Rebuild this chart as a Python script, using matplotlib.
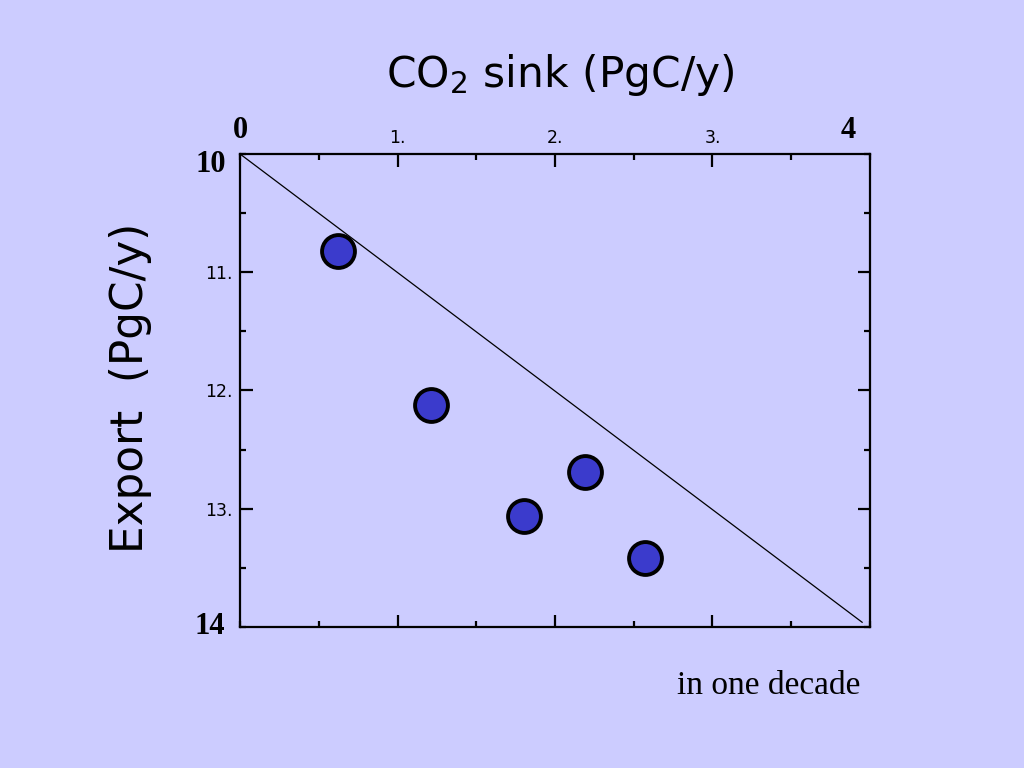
import matplotlib
matplotlib.use("Agg")
import matplotlib.pyplot as plt
from matplotlib.ticker import MultipleLocator

# Data
co2_sink = [0.62, 1.21, 1.80, 2.19, 2.57]
export = [10.82, 12.12, 13.06, 12.69, 13.42]
line_x = [0.0, 3.95]
line_y = [10.0, 13.96]
x_ticks = [1, 2, 3]
x_tick_labels = ['1.', '2.', '3.']
y_ticks = [11, 12, 13]
y_tick_labels = ['11.', '12.', '13.']

bg = '#ccccff'
fig = plt.figure(figsize=(10.24, 7.68), dpi=100, facecolor=bg)
ax = fig.add_axes([0.2344, 0.1836, 0.6152, 0.6159], facecolor=bg)

ax.plot(line_x, line_y, color='black', lw=0.9, zorder=2)
ax.scatter(co2_sink, export, s=560, color='#3b3bcc', edgecolor='black',
           linewidth=2.8, zorder=3)

ax.set_xlim(0, 4)
ax.set_ylim(14, 10)

ax.xaxis.tick_top()
ax.set_xticks(x_ticks, x_tick_labels)
ax.set_yticks(y_ticks, y_tick_labels)
ax.xaxis.set_minor_locator(MultipleLocator(0.5))
ax.yaxis.set_minor_locator(MultipleLocator(0.5))
ax.tick_params(which='both', direction='in', top=True, bottom=True,
               left=True, right=True, width=1.6, color='black')
ax.tick_params(which='major', length=9, labelsize=12.5, pad=5)
ax.tick_params(which='minor', length=4.5)
for s in ax.spines.values():
    s.set_linewidth(1.6)

# bold end labels
bold = dict(family='Liberation Serif', fontweight='bold', fontsize=22, color='black')
ax.text(0, 1.02, '0', transform=ax.transAxes, ha='center', va='bottom', **bold)
ax.text(0.965, 1.02, '4', transform=ax.transAxes, ha='center', va='bottom', **bold)
ax.text(-0.023, 0.977, '10', transform=ax.transAxes, ha='right', va='center', **bold)
ax.text(-0.023, 0.0, '14', transform=ax.transAxes, ha='right', va='center', **bold)

fig.text(0.547, 0.902, 'CO$_2$ sink (PgC/y)', ha='center', va='center',
         fontsize=30.5, family='DejaVu Sans', color='black')
fig.text(0.127, 0.495, 'Export  (PgC/y)', ha='center', va='center',
         rotation=90, fontsize=31.5, family='DejaVu Sans', color='black')
fig.text(0.84, 0.107, 'in one decade', ha='right', va='center',
         fontsize=24, family='Liberation Serif', color='black')

fig.savefig('out.png', dpi=100, facecolor=bg)
